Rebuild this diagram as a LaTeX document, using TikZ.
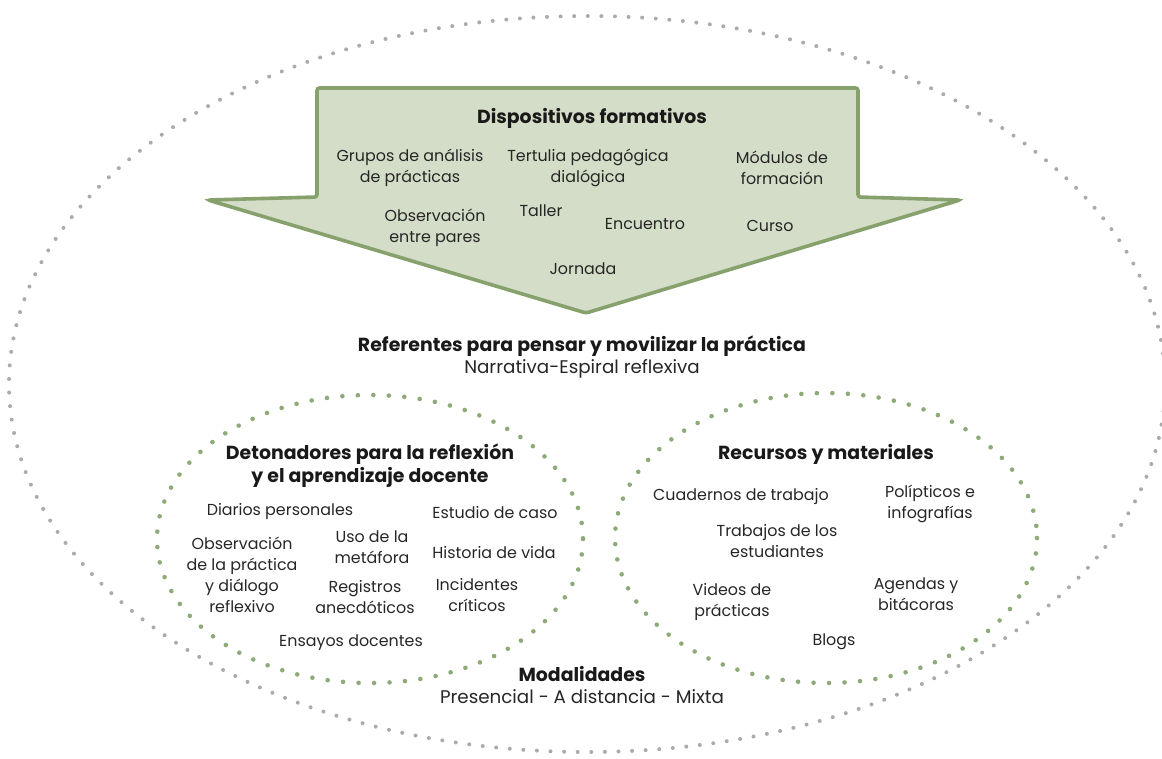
\documentclass[tikz,border=0pt]{standalone}
\usepackage{fontspec}
\setmainfont{Poppins}
\usepackage{tikz}

\definecolor{arrowfill}{HTML}{D4DDC7}
\definecolor{arrowline}{HTML}{86A16C}
\definecolor{greendot}{HTML}{8EAA78}
\definecolor{graydot}{HTML}{ABABAB}

\begin{document}
\begin{tikzpicture}[x=1pt,y=-1pt,
  txt/.style={align=center,font=\fontsize{15.9}{21}\selectfont,text=black!85,inner sep=0pt},
  sub/.style={align=center,font=\fontsize{18.3}{23}\selectfont,text=black!85,inner sep=0pt},
  ttl/.style={align=center,font=\fontsize{18.9}{23}\selectfont\bfseries,text=black!90,inner sep=0pt},
  graydots/.style={graydot,line width=4pt,line cap=round,dash pattern=on 0pt off 13.6pt},
  greendots/.style={greendot,line width=4.6pt,line cap=round,dash pattern=on 0pt off 15.5pt}]
\useasboundingbox (0,0) rectangle (1162,758);
% outer frame
\draw [graydots] (587,384) ellipse [x radius=578, y radius=368];
% big arrow
\draw [fill=arrowfill, draw=arrowline, line width=3.6pt, rounded corners=2.5pt]
  (317,88) -- (858,88) -- (858,197) -- (960,200) -- (586,313)
  -- (208,200) -- (317,197) -- cycle;
\node [ttl] (disp) at (592,118) {Dispositivos formativos};
\node [txt] (grupos) at (410,168) {Grupos de análisis\\de prácticas};
\node [txt] (tertulia) at (588,168) {Tertulia pedagógica\\dialógica};
\node [txt] (modulos) at (782,168) {Módulos de\\formación};
\node [txt] (obspares) at (435,228) {Observación\\entre pares};
\node [txt] (taller) at (541,211) {Taller};
\node [txt] (encuentro) at (645,224) {Encuentro};
\node [txt] (curso) at (770,226) {Curso};
\node [txt] (jornada) at (583,269) {Jornada};
% middle
\node [ttl] (refer) at (582,346) {Referentes para pensar y movilizar la práctica};
\node [sub] (narr) at (582,369) {Narrativa-Espiral reflexiva};
% left circle
\draw [greendots] (370,539) ellipse [x radius=213, y radius=144];
\node [ttl] (deton) at (370,466) {Detonadores para la reflexión\\y el aprendizaje docente};
\node [txt] (diarios) at (280,512) {Diarios personales};
\node [txt] (estudio) at (495,513) {Estudio de caso};
\node [txt] (obspract) at (242,575) {Observación\\de la práctica\\y diálogo\\reflexivo};
\node [txt] (uso) at (372,547) {Uso de la\\metáfora};
\node [txt] (historia) at (494,553) {Historia de vida};
\node [txt] (registros) at (365,597) {Registros\\anecdóticos};
\node [txt] (incid) at (477,595) {Incidentes\\críticos};
\node [txt] (ensayos) at (351,643) {Ensayos docentes};
% right circle
\draw [greendots] (826,538) ellipse [x radius=211, y radius=145];
\node [ttl] (recursos) at (826,454) {Recursos y materiales};
\node [txt] (cuadernos) at (741,497) {Cuadernos de trabajo};
\node [txt] (poli) at (930,504) {Polípticos e\\infografías};
\node [txt] (trabajos) at (777,541) {Trabajos de los\\estudiantes};
\node [txt] (videos) at (732,602) {Videos de\\prácticas};
\node [txt] (agendas) at (916,594) {Agendas y\\bitácoras};
\node [txt] (blogs) at (834,642) {Blogs};
% bottom
\node [ttl] (modal) at (582,674) {Modalidades};
\node [sub] (pres) at (582,697) {Presencial - A distancia - Mixta};
\end{tikzpicture}
\end{document}
